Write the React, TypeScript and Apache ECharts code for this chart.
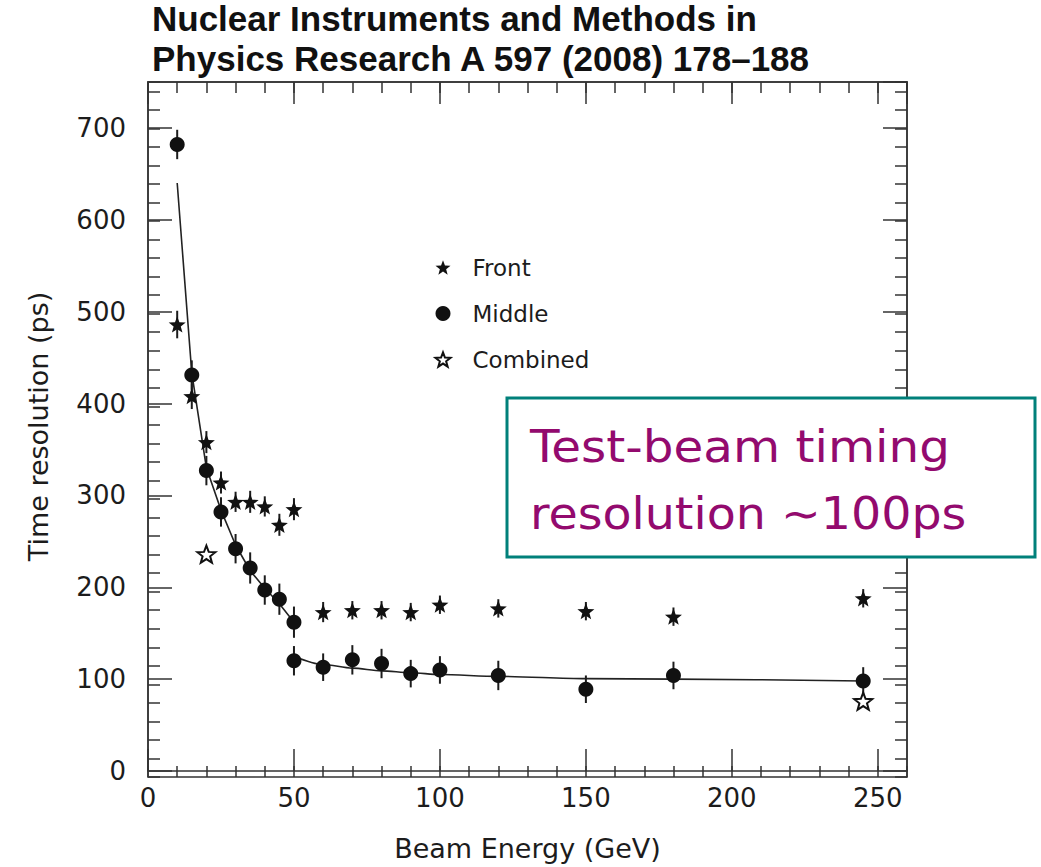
import React, { useEffect, useRef } from "react";
import * as echarts from "echarts";

// ---------- data ----------
const middleX = [10, 15, 20, 25, 30, 35, 40, 45, 50, 50, 60, 70, 80, 90, 100, 120, 150, 180, 245];
const middleY = [682, 431, 327, 282, 242, 221, 197, 187, 162, 120, 113, 121, 117, 106, 110, 104, 89, 104, 98];
const middleErr = [16, 16, 16, 16, 16, 17, 16, 17, 17, 16, 15, 16, 16, 15, 15, 16, 15, 15, 15];

const frontX = [10, 15, 20, 25, 30, 35, 40, 45, 50, 60, 70, 80, 90, 100, 120, 150, 180, 245];
const frontY = [486, 408, 358, 314, 293, 293, 288, 268, 285, 173, 175, 175, 173, 181, 177, 174, 168, 188];
const frontErr = [15, 14, 12, 12, 11, 12, 11, 12, 12, 11, 10, 10, 10, 10, 10, 10, 10, 10];

const combinedX = [20, 245];
const combinedY = [236, 76];

const fit1X = [10, 15, 20, 25, 30, 35, 40, 45, 50];
const fit1Y = [640, 433, 330, 284, 246, 218, 199, 182, 162];
const fit2X = [50, 60, 70, 80, 90, 100, 120, 150, 180, 245];
const fit2Y = [125, 116, 112, 109, 107, 105, 103, 100.5, 100, 98];

const xTickMajor = 50;
const xTickMinor = 10;
const yTickMajor = 100;
const yTickMinor = 20;

const legendNames = ["Front", "Middle", "Combined"];
const titleLines = ["Nuclear Instruments and Methods in", "Physics Research A 597 (2008) 178–188"];
const noteLines = ["Test-beam timing", "resolution ∼100ps"];

// ---------- styling helpers ----------
const starPath = (() => {
  const pts: string[] = [];
  for (let i = 0; i < 10; i++) {
    const a = -Math.PI / 2 + (i * Math.PI) / 5;
    const r = i % 2 === 0 ? 10 : 4.2;
    pts.push(`${(10 + r * Math.cos(a)).toFixed(2)} ${(10 + r * Math.sin(a)).toFixed(2)}`);
  }
  return "path://M" + pts.join(" L") + " Z";
})();

const FONT = "DejaVu Sans";
const INK = "#1c1c1c";

const zip = (xs: number[], ys: number[]) => xs.map((x, i) => [x, ys[i]]);
const zip3 = (xs: number[], ys: number[], es: number[]) => xs.map((x, i) => [x, ys[i], es[i]]);

const errRender = (params: any, api: any) => {
  const x = api.value(0);
  const y = api.value(1);
  const e = api.value(2);
  const a = api.coord([x, y + e]);
  const b = api.coord([x, y - e]);
  return {
    type: "line",
    shape: { x1: a[0], y1: a[1], x2: b[0], y2: b[1] },
    style: { stroke: INK, lineWidth: 2 },
  };
};

const GRID = { left: 148, top: 82, right: 134, bottom: 90 };

function axisX(gridIndex: number, position: string, interval: number, len: number, labels: boolean, name?: string) {
  return {
    type: "value",
    gridIndex,
    position,
    min: 0,
    max: 260,
    interval,
    name: name || "",
    nameLocation: "middle",
    nameGap: 64,
    nameTextStyle: { fontFamily: FONT, fontSize: 27, color: INK },
    axisLine: { show: true, onZero: false, lineStyle: { color: "#333", width: 1.5 } },
    axisTick: { show: true, inside: true, length: len, lineStyle: { color: "#333", width: 1.5 } },
    axisLabel: {
      show: labels,
      showMaxLabel: false,
      margin: 14,
      fontFamily: FONT,
      fontSize: 26,
      color: INK,
    },
    splitLine: { show: false },
  };
}

function axisY(gridIndex: number, position: string, interval: number, len: number, labels: boolean, name?: string) {
  return {
    type: "value",
    gridIndex,
    position,
    min: 0,
    max: 750,
    interval,
    name: name || "",
    nameLocation: "middle",
    nameGap: 96,
    nameTextStyle: { fontFamily: FONT, fontSize: 27, color: INK },
    axisLine: { show: true, onZero: false, lineStyle: { color: "#333", width: 1.5 } },
    axisTick: { show: true, inside: true, length: len, lineStyle: { color: "#333", width: 1.5 } },
    axisLabel: {
      show: labels,
      showMaxLabel: false,
      margin: 22,
      fontFamily: FONT,
      fontSize: 26,
      color: INK,
    },
    splitLine: { show: false },
  };
}

export default function App() {
  const ref = useRef<HTMLDivElement>(null);

  useEffect(() => {
    if (!ref.current) return;
    const chart = echarts.init(ref.current, undefined, { renderer: "svg" });

    const option: any = {
      animation: false,
      backgroundColor: "#ffffff",
      title: {
        text: titleLines.join("\n"),
        left: 152,
        top: -2,
        padding: 0,
        textStyle: {
          fontFamily: "Liberation Sans",
          fontWeight: "bold",
          fontSize: 35,
          lineHeight: 40,
          color: "#111",
        },
      },
      legend: {
        data: legendNames,
        orient: "vertical",
        left: 429.5,
        top: 251,
        itemWidth: 15,
        itemHeight: 15,
        itemGap: 23,
        selectedMode: false,
        textStyle: {
          fontFamily: FONT,
          fontSize: 23,
          color: INK,
          lineHeight: 15,
          padding: [0, 0, 0, 17],
        },
      },
      grid: [
        { ...GRID, containLabel: false },
        { ...GRID, containLabel: false },
      ],
      xAxis: [
        axisX(0, "bottom", xTickMajor, 22, true, "Beam Energy (GeV)"),
        axisX(0, "top", xTickMajor, 22, false),
        axisX(1, "bottom", xTickMinor, 11, false),
        axisX(1, "top", xTickMinor, 11, false),
      ],
      yAxis: [
        axisY(0, "left", yTickMajor, 24, true, "Time resolution (ps)"),
        axisY(0, "right", yTickMajor, 24, false),
        axisY(1, "left", yTickMinor, 12, false),
        axisY(1, "right", yTickMinor, 12, false),
      ],
      series: [
        {
          name: "fit-low",
          type: "line",
          xAxisIndex: 0,
          yAxisIndex: 0,
          data: zip(fit1X, fit1Y),
          symbol: "none",
          smooth: false,
          lineStyle: { color: "#222", width: 1.6 },
          z: 1,
        },
        {
          name: "fit-high",
          type: "line",
          xAxisIndex: 0,
          yAxisIndex: 0,
          data: zip(fit2X, fit2Y),
          symbol: "none",
          smooth: 0.3,
          smoothMonotone: "x",
          lineStyle: { color: "#222", width: 1.6 },
          z: 1,
        },
        {
          name: "middle-err",
          type: "custom",
          xAxisIndex: 0,
          yAxisIndex: 0,
          renderItem: errRender,
          data: zip3(middleX, middleY, middleErr),
          encode: { x: 0, y: 1 },
          z: 2,
        },
        {
          name: "front-err",
          type: "custom",
          xAxisIndex: 0,
          yAxisIndex: 0,
          renderItem: errRender,
          data: zip3(frontX, frontY, frontErr),
          encode: { x: 0, y: 1 },
          z: 2,
        },
        {
          name: "Front",
          type: "scatter",
          xAxisIndex: 0,
          yAxisIndex: 0,
          data: zip(frontX, frontY),
          symbol: starPath,
          symbolKeepAspect: true,
          symbolSize: 17,
          itemStyle: { color: "#111", opacity: 1 },
          z: 5,
        },
        {
          name: "Middle",
          type: "scatter",
          xAxisIndex: 0,
          yAxisIndex: 0,
          data: zip(middleX, middleY),
          symbol: "circle",
          symbolSize: 15,
          itemStyle: { color: "#111", opacity: 1 },
          z: 5,
        },
        {
          name: "Combined",
          type: "scatter",
          xAxisIndex: 0,
          yAxisIndex: 0,
          data: zip(combinedX, combinedY),
          symbol: starPath,
          symbolKeepAspect: true,
          symbolSize: 18,
          itemStyle: { color: "#ffffff", borderColor: "#111", borderWidth: 2, opacity: 1 },
          z: 5,
        },
      ],
      graphic: [
        {
          type: "group",
          z: 100,
          children: [
            {
              type: "rect",
              shape: { x: 507, y: 398, width: 528, height: 159 },
              style: { fill: "#ffffff", stroke: "#00807a", lineWidth: 3 },
              z: 100,
            },
            {
              type: "text",
              x: 530,
              y: 447,
              scaleX: 1.1,
              originX: 0,
              z: 101,
              style: {
                text: noteLines[0],
                fontFamily: FONT,
                fontSize: 44,
                fill: "#930a6e",
                verticalAlign: "middle",
              },
            },
            {
              type: "text",
              x: 530,
              y: 514,
              scaleX: 1.08,
              originX: 0,
              z: 101,
              style: {
                text: noteLines[1],
                fontFamily: FONT,
                fontSize: 44,
                fill: "#930a6e",
                verticalAlign: "middle",
              },
            },
          ],
        },
      ],
    };

    chart.setOption(option);
    return () => chart.dispose();
  }, []);

  return (
    <div
      ref={ref}
      style={{ position: "absolute", left: 0, top: 0, width: 1041, height: 867, background: "#fff" }}
    />
  );
}
